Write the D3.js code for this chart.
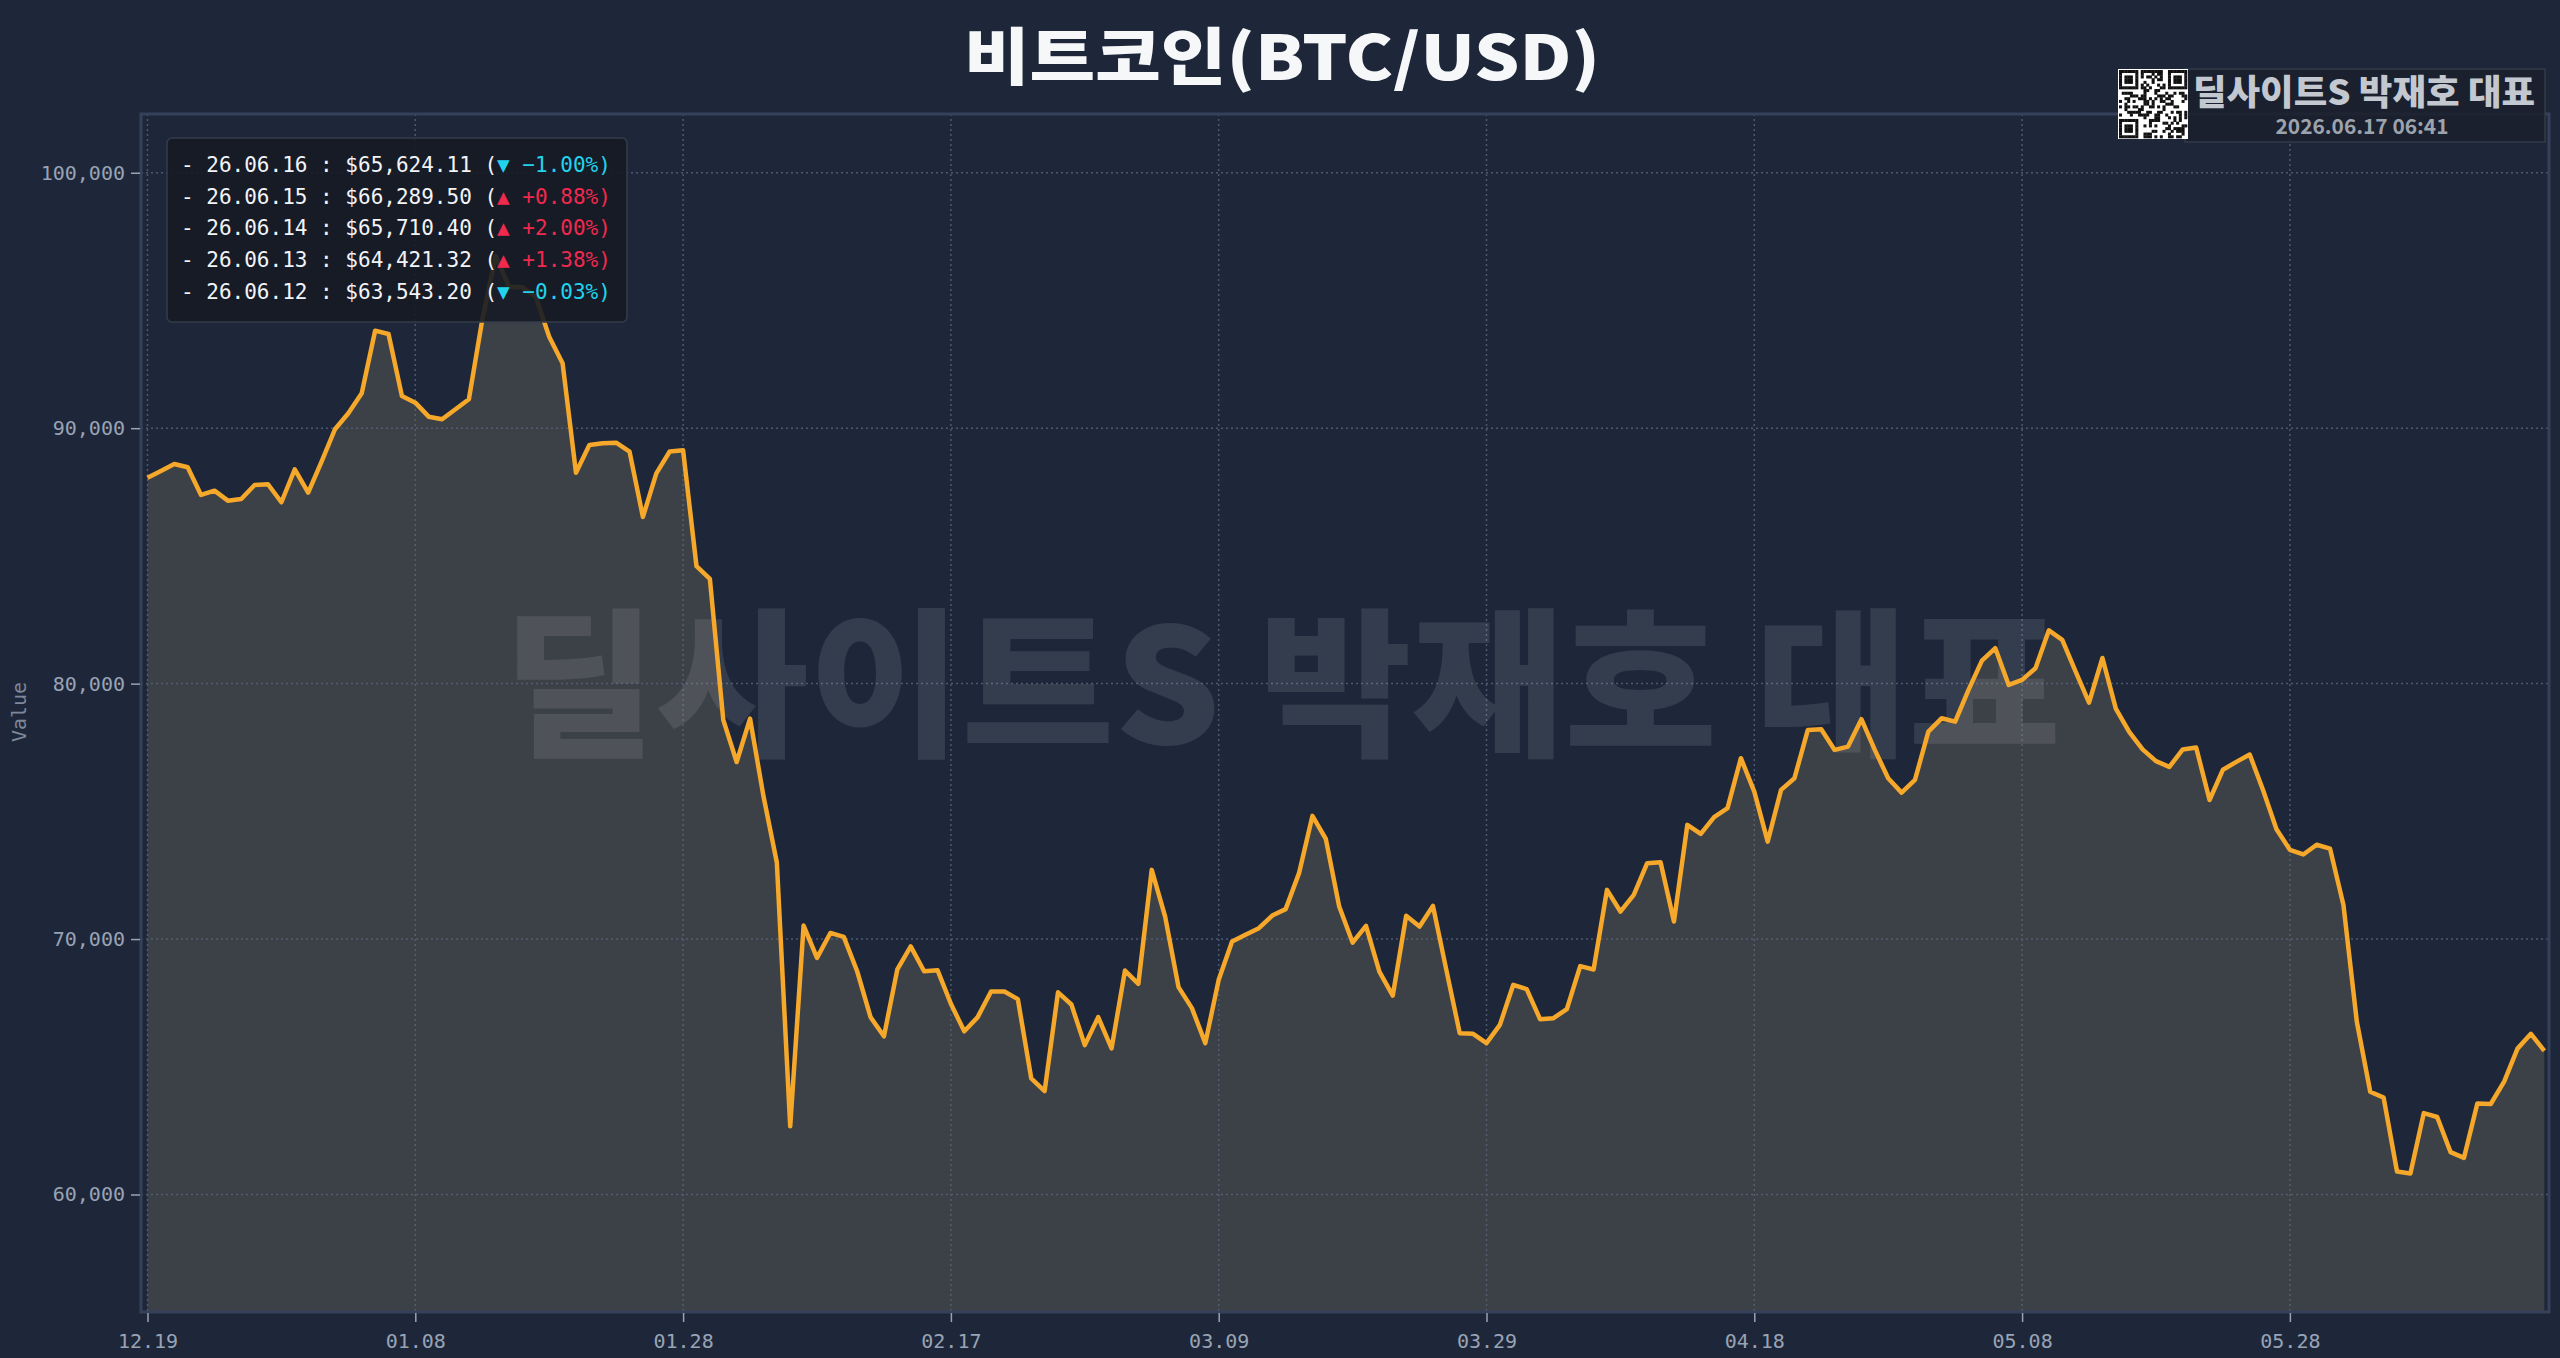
<!DOCTYPE html>
<html>
<head>
<meta charset="utf-8">
<script src="https://cdn.jsdelivr.net/npm/d3@7"></script>
<style>
  html, body { margin: 0; padding: 0; background: #1e2739; }
  svg { display: block; }
</style>
</head>
<body>
<svg id="svg" width="2560" height="1358"></svg>
<script>
const chartTitle = "비트코인(BTC/USD)";
const brandName = "딜사이트S 박재호 대표";
const stampText = "2026.06.17 06:41";
const yLabel = "Value";

// daily closes, 2025-12-19 .. 2026-06-16
const startDate = "2025-12-19";
const prices = [
  88063, 88326, 88600, 88470, 87386, 87555, 87163, 87230, 87778, 87805,
  87100, 88392, 87476, 88690, 89958, 90584, 91367, 93817, 93688, 91261,
  90999, 90451, 90349, 90741, 91132, 94236, 96741, 95539, 95516, 95148,
  93582, 92541, 88259, 89343, 89410, 89433, 89081, 86525, 88232, 89089,
  89132, 84600, 84100, 78580, 76932, 78630, 75600, 73000, 62670, 70530,
  69264, 70239, 70087, 68740, 66943, 66192, 68814, 69715, 68740, 68783,
  67468, 66388, 66943, 67945, 67945, 67648, 64544, 64051, 67914, 67437,
  65848, 66943, 65720, 68767, 68247, 72709, 70881, 68117, 67296, 65926,
  68403, 69902, 70165, 70427, 70920, 71171, 72580, 74822, 73922, 71272,
  69863, 70517, 68728, 67789, 70909, 70490, 71300, 68795, 66317, 66290,
  65926, 66642, 68208, 68039, 66865, 66904, 67256, 68940, 68810, 71926,
  71077, 71730, 72971, 73010, 70685, 74470, 74118, 74771, 75124, 77081,
  75773, 73816, 75840, 76298, 78188, 78216, 77405, 77535, 78607, 77405,
  76298, 75734, 76231, 78122, 78646, 78513, 79754, 80901, 81386, 79950,
  80145, 80603, 82085, 81715, 80470, 79253, 81003, 79022, 78110, 77425,
  76967, 76740, 77425, 77500, 75444, 76630, 76936, 77226, 75824, 74302,
  73495, 73312, 73691, 73539, 71331, 66763, 64024, 63793, 60900, 60822,
  63186, 63033, 61660, 61433, 63562.3, 63543.20, 64421.32, 65710.40, 66289.50, 65624.11
];
const yDomain = [55400, 102300];
const yTicks = [60000, 70000, 80000, 90000, 100000];
const tickEvery = 20;
const recentCount = 5;

const svg = d3.select("#svg");
const W = 2560, H = 1358;
const frame = {left: 141, right: 2549, top: 114, bottom: 1312};

const t0 = d3.timeParse("%Y-%m-%d")(startDate);
const data = prices.map((v, i) => ({date: d3.timeDay.offset(t0, i), value: v}));

const x = d3.scaleTime()
  .domain(d3.extent(data, d => d.date))
  .range([147.5, 2544.3]);

const y = d3.scaleLinear()
  .domain(yDomain)
  .range([frame.bottom, frame.top]);

svg.append("rect").attr("width", W).attr("height", H).attr("fill", "#1e2739");

// filled area under the line
svg.append("path")
  .datum(data)
  .attr("fill", "#3c4047")
  .attr("d", d3.area().x(d => x(d.date)).y0(frame.bottom).y1(d => y(d.value)));

// dotted grid
const xTickVals = data.filter((d, i) => i % tickEvery === 0).map(d => d.date);
const grid = svg.append("g").attr("stroke", "#5a667e").attr("stroke-width", 1.5)
  .attr("stroke-dasharray", "2,3").attr("opacity", 0.8);
grid.selectAll(".gy").data(yTicks).enter().append("line")
  .attr("x1", frame.left).attr("x2", frame.right)
  .attr("y1", d => y(d)).attr("y2", d => y(d));
grid.selectAll(".gx").data(xTickVals).enter().append("line")
  .attr("x1", d => x(d)).attr("x2", d => x(d))
  .attr("y1", frame.top).attr("y2", frame.bottom);

// big watermark
svg.append("text")
  .attr("x", 1282).attr("y", 674)
  .attr("text-anchor", "middle").attr("dominant-baseline", "central")
  .attr("textLength", 1558).attr("lengthAdjust", "spacingAndGlyphs")
  .style("font-family", "'Noto Sans CJK KR', sans-serif")
  .style("font-weight", 900).style("font-size", "160px")
  .attr("fill", "#ffffff").attr("fill-opacity", 0.1)
  .text(brandName);

// price line
svg.append("path")
  .datum(data)
  .attr("fill", "none")
  .attr("stroke", "#f5a82a")
  .attr("stroke-width", 4.5)
  .attr("stroke-linejoin", "round")
  .attr("d", d3.line().x(d => x(d.date)).y(d => y(d.value)));

// frame
svg.append("rect")
  .attr("x", frame.left).attr("y", frame.top)
  .attr("width", frame.right - frame.left).attr("height", frame.bottom - frame.top)
  .attr("fill", "none").attr("stroke", "#35415a").attr("stroke-width", 3);

// axes
const tickFont = (sel) => sel.selectAll("text")
  .attr("fill", "#98a3b6")
  .style("font-family", "'DejaVu Sans Mono', monospace")
  .style("font-size", "20px");

const xAxis = svg.append("g")
  .attr("transform", "translate(0," + (frame.bottom + 1) + ")")
  .call(d3.axisBottom(x).tickValues(xTickVals).tickFormat(d3.timeFormat("%m.%d"))
    .tickSize(9).tickPadding(12));
xAxis.select(".domain").remove();
xAxis.selectAll("line").attr("stroke", "#98a3b6").attr("stroke-width", 1.5);
tickFont(xAxis);

const yAxis = svg.append("g")
  .attr("transform", "translate(" + (frame.left - 1) + ",0)")
  .call(d3.axisLeft(y).tickValues(yTicks).tickFormat(d3.format(",")).tickSize(9).tickPadding(6));
yAxis.select(".domain").remove();
yAxis.selectAll("line").attr("stroke", "#98a3b6").attr("stroke-width", 1.5);
tickFont(yAxis);

svg.append("text")
  .attr("transform", "translate(19,712) rotate(-90)")
  .attr("text-anchor", "middle").attr("dominant-baseline", "central")
  .attr("fill", "#7d889b")
  .style("font-family", "'DejaVu Sans Mono', monospace").style("font-size", "20px")
  .text(yLabel);

// recent-days box
const recent = d3.range(data.length - 1, data.length - 1 - recentCount, -1).map(i => ({
  date: data[i].date,
  value: data[i].value,
  change: (data[i].value / data[i - 1].value - 1) * 100
}));

const legend = svg.append("g");
legend.append("rect")
  .attr("x", 167).attr("y", 138).attr("width", 460).attr("height", 184).attr("rx", 5)
  .attr("fill", "#161b25").attr("fill-opacity", 0.9)
  .attr("stroke", "#343c4b").attr("stroke-width", 1.5);

const fmtDate = d3.timeFormat("%y.%m.%d");
const fmtPrice = d3.format(",.2f");
const rows = legend.selectAll(".row").data(recent).enter().append("text")
  .attr("x", 181).attr("y", (d, i) => 172 + i * 31.7)
  .style("font-family", "'DejaVu Sans Mono', monospace").style("font-size", "21px")
  .style("white-space", "pre");
rows.append("tspan").attr("fill", "#f2f4f7")
  .text(d => "- " + fmtDate(d.date) + " : $" + fmtPrice(d.value) + " (");
rows.append("tspan")
  .attr("fill", d => d.change >= 0 ? "#f0294f" : "#22d3ee")
  .text(d => (d.change >= 0 ? "▲ +" : "▼ ") + d3.format(".2f")(d.change) + "%)");

// title
svg.append("text")
  .attr("x", 1282).attr("y", 80)
  .attr("text-anchor", "middle")
  .attr("textLength", 636).attr("lengthAdjust", "spacingAndGlyphs")
  .attr("fill", "#f6f7f9")
  .style("font-family", "'Noto Sans CJK KR', sans-serif")
  .style("font-weight", 900).style("font-size", "62px")
  .text(chartTitle);

// brand badge with QR-like mark
const badge = svg.append("g");
badge.append("rect")
  .attr("x", 2185).attr("y", 69).attr("width", 360).attr("height", 73)
  .attr("fill", "#1a202c").attr("fill-opacity", 0.85)
  .attr("stroke", "#333b4a").attr("stroke-width", 1.5);

const qrN = 25, qrX = 2119, qrY = 70, qrS = 68 / 25;
badge.append("rect").attr("x", qrX - 1).attr("y", qrY - 1)
  .attr("width", 70).attr("height", 70).attr("fill", "#ffffff");
const finder = (r, c) => {
  const spots = [[0, 0], [0, qrN - 7], [qrN - 7, 0]];
  for (const [fr, fc] of spots) {
    const a = r - fr, b = c - fc;
    if (a >= 0 && a < 7 && b >= 0 && b < 7) {
      return (a === 0 || a === 6 || b === 0 || b === 6 || (a >= 2 && a <= 4 && b >= 2 && b <= 4)) ? 1 : 0;
    }
    if (a >= -1 && a <= 7 && b >= -1 && b <= 7) return 0;
  }
  return -1;
};
const cells = [];
for (let r = 0; r < qrN; r++) {
  for (let c = 0; c < qrN; c++) {
    const f = finder(r, c);
    const on = f >= 0 ? f === 1 : (((r * 31 + c * 17) ^ (r * c + 5)) % 5) < 2;
    if (on) cells.push([r, c]);
  }
}
badge.selectAll(".qr").data(cells).enter().append("rect")
  .attr("x", d => qrX + d[1] * qrS).attr("y", d => qrY + d[0] * qrS)
  .attr("width", qrS + 0.3).attr("height", qrS + 0.3).attr("fill", "#111111");

badge.append("text")
  .attr("x", 2364).attr("y", 105)
  .attr("text-anchor", "middle").attr("fill", "#c3c8d0")
  .attr("textLength", 342).attr("lengthAdjust", "spacingAndGlyphs")
  .style("font-family", "'Noto Sans CJK KR', sans-serif")
  .style("font-weight", 900).style("font-size", "35px")
  .text(brandName);
badge.append("text")
  .attr("x", 2362).attr("y", 134)
  .attr("text-anchor", "middle").attr("fill", "#9da3ad")
  .attr("textLength", 173).attr("lengthAdjust", "spacingAndGlyphs")
  .style("font-family", "'Noto Sans CJK KR', sans-serif")
  .style("font-weight", 700).style("font-size", "21px")
  .text(stampText);
</script>
</body>
</html>
